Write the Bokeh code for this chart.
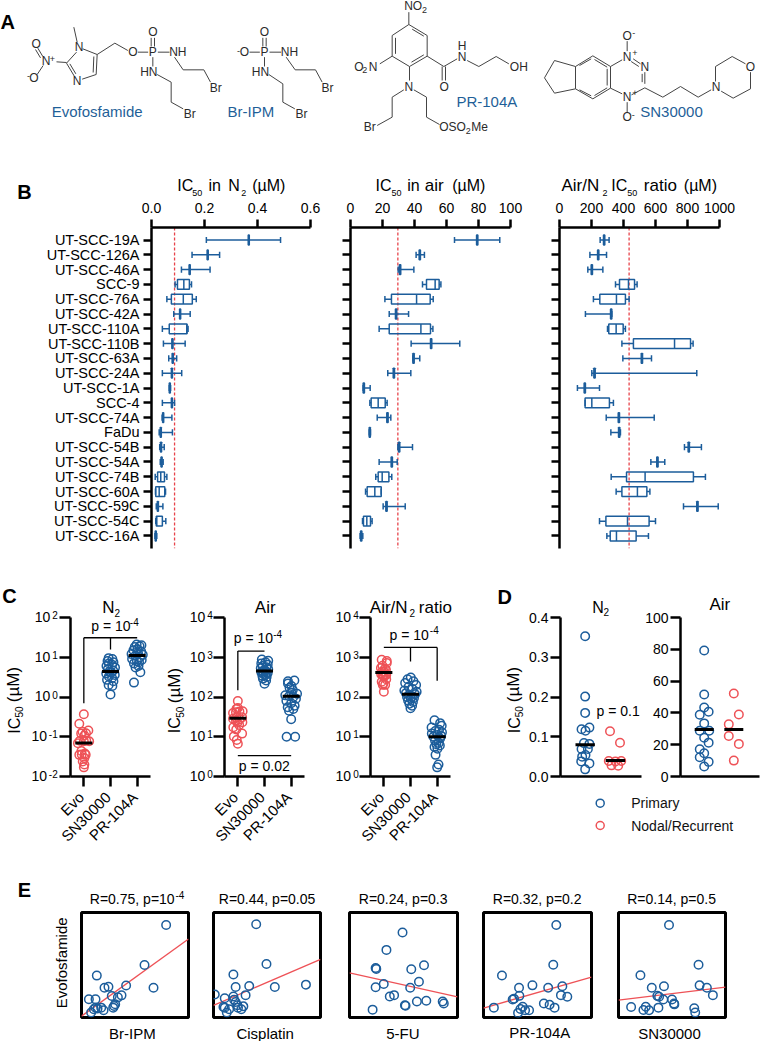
from math import pi
from bokeh.plotting import figure
from bokeh.layouts import column, row
from bokeh.models import FactorRange, Range1d, FixedTicker, Span, CustomJSTickFormatter
from bokeh.core.properties import value
from bokeh.embed import file_html
from bokeh.resources import INLINE

FONT = "Liberation Sans"
BLUE = "#1c5d9b"
RED = "#ee5257"
DBLUE = "#1f5f98"
INK = "#2a2a2a"

# ---------- panel B ----------
CELLS = ["UT-SCC-19A", "UT-SCC-126A", "UT-SCC-46A", "SCC-9", "UT-SCC-76A", "UT-SCC-42A", "UT-SCC-110A",
         "UT-SCC-110B", "UT-SCC-63A", "UT-SCC-24A", "UT-SCC-1A", "SCC-4", "UT-SCC-74A", "FaDu", "UT-SCC-54B",
         "UT-SCC-54A", "UT-SCC-74B", "UT-SCC-60A", "UT-SCC-59C", "UT-SCC-54C", "UT-SCC-16A"]
N2_MIN = [.207,.153,.113,.089,.058,.084,.041,.045,.065,.041,.067,.041,.040,.029,.031,.033,.014,.015,.018,.016,.013]
N2_Q1  = [.365,.210,.142,.098,.075,.106,.067,.077,.078,.075,.067,.075,.042,.033,.034,.036,.023,.016,.022,.018,.014]
N2_MED = [.367,.212,.144,.122,.120,.108,.133,.079,.080,.077,.069,.077,.044,.035,.036,.038,.035,.029,.024,.020,.016]
N2_Q3  = [.369,.214,.146,.143,.154,.110,.134,.081,.082,.079,.071,.079,.046,.037,.038,.040,.049,.050,.026,.041,.018]
N2_MAX = [.487,.257,.221,.151,.169,.146,.138,.127,.095,.114,.072,.087,.077,.079,.048,.044,.058,.053,.043,.054,.020]
AIR_MIN = [65,41,29.8,45,21.5,24.2,17.9,37.9,39,23.3,7.9,12.1,16.7,11.7,29.6,17.9,15.8,9.4,20.4,7.5,6]
AIR_Q1  = [78.8,42.9,30.6,47.5,25.6,28.1,24.2,50,39,26.7,7.9,12.9,22.7,11.7,30,25.4,17.3,10.4,22.1,8.1,6.3]
AIR_MED = [79.2,43.3,31,52.9,41.3,28.5,44,50.4,39.4,27.1,8.3,17.3,23.1,12,30.4,25.8,19.8,15.2,22.5,10.2,6.7]
AIR_Q3  = [79.6,43.7,31.4,55.4,49.8,28.9,50,50.8,39.8,27.5,8.7,21.7,23.5,12.4,30.8,26.2,24,19.2,22.9,12.5,7.1]
AIR_MAX = [93.3,46.2,39.6,56.5,51.7,36.3,51.5,68.3,43.3,37.7,12.3,22.9,25.2,12.5,38.75,29.2,25.8,19.2,34.2,13.5,7.7]
RAT_MIN = [254,190,177,350,212,162,300,390,396,202,112,160,292,321,781,571,323,354,775,250,296]
RAT_Q1  = [275,238,198,375,252,319,308,462,511,215,154,160,367,369,804,608,419,390,858,290,317]
RAT_MED = [279,242,202,431,356,323,354,719,515,219,158,202,371,373,808,612,535,487,862,425,356]
RAT_Q3  = [283,246,206,469,412,327,398,819,519,223,162,312,375,377,812,616,837,546,866,560,479]
RAT_MAX = [310,294,271,485,435,327,412,835,575,858,250,337,592,381,887,658,912,565,992,600,556]
N2_REF, AIR_REF, RAT_REF = 0.087, 29.6, 435

# ---------- panel C ----------
C_TICKS = ["Evo", "SN30000", "PR-104A"]
C1_EVO = [.367,.212,.144,.122,.120,.108,.133,.079,.080,.077,.069,.077,.044,.035,.036,.038,.035,.029,.024,.020,.017]
C1_EVO_X = [0,-.17,.17,.08,-.1,.02,-.05,-.15,.09,.2,-.22,0,-.09,.07,-.08,.04,-.17,.02,-.04,.02,0]
C1_SN = [1.15,1.9,2.0,2.5,2.7,3.0,3.3,3.6,3.9,4.2,4.4,4.6,5,5.5,6,6.5,7,7.5,8,9,9.5]
C1_SN_X = [0,.07,-.07,.11,-.13,.06,-.06,.16,-.16,.03,-.03,.1,-.1,.17,-.15,.06,-.06,.11,-.11,.07,-.07]
C1_PR = [2.3,4.2,5.5,6,7,7.5,8,8.5,9,10,11,11.5,12,13,14,15,16,18,19,20,21]
C1_PR_X = [-.12,.12,-.06,.05,-.12,.07,-.01,.17,-.19,.11,-.06,.21,-.21,.03,.15,-.14,.01,-.09,.09,.16,-.02]
C2_EVO = [79.2,43.3,31,52.9,41.3,28.5,44,50.4,39.4,27.1,8.3,17.3,23.1,12,30.4,25.8,19.8,15.2,22.5,10.2,6.7]
C2_EVO_X = [0,.06,.16,0,-.07,-.18,.18,-.05,-.18,.07,-.04,-.17,.17,.16,-.06,-.07,.05,-.06,-.02,-.15,0]
C2_SN = [216,260,290,320,340,360,380,400,420,440,450,470,500,530,560,600,650,700,750,820,880]
C2_SN_X = [0,.06,-.06,.08,-.08,.04,-.04,.12,-.12,.06,-.06,.01,.14,-.14,.07,-.07,.12,-.12,.04,.14,-.1]
C2_PR = [10,10,27.5,45,50,55,60,70,80,90,100,105,110,120,130,150,170,190,220,250,260]
C2_PR_X = [-.17,.15,0,-.08,.08,-.13,.13,0,-.18,.18,.08,-.08,-.22,.22,0,.06,-.06,.01,-.12,-.12,.12]
C3_EVO = [279,242,202,431,356,323,354,719,515,219,135,202,371,373,808,612,535,487,862,425,356]
C3_EVO_X = [.09,-.08,.05,-.07,.09,0,-.05,.11,.04,-.02,0,-.04,.07,-.1,.11,-.05,-.11,.08,-.08,.02,-.01]
C3_SN = [52,60,68,75,82,90,95,100,105,112,118,125,135,145,160,180,200,225,250,280,310]
C3_SN_X = [0,.06,-.04,.09,-.09,.01,.13,-.13,.06,-.06,.17,-.17,.23,-.23,.07,-.07,.21,-.2,.11,-.11,.01]
C3_PR = [1.7,2,3.5,5,5.5,6,6.5,7,8,9,10,10.5,11,12,13,14,15,17,19,22,26]
C3_PR_X = [0,.05,-.06,.01,-.1,.1,-.03,.06,-.08,.11,-.14,.15,.01,-.2,.18,-.07,.07,-.21,.17,.11,-.1]
C1_MEDIANS = [0.07, 4.4, 11]
C2_MEDIANS = [29, 450, 105]
C3_MEDIANS = [413, 118, 10]

# ---------- panel D ----------
D1_P = [.353,.201,.160,.119,.123,.115,.084,.082,.069,.069,.054,.050,.038,.033,.018]
D1_P_X = [0,0,0,-.12,.14,.01,-.04,.14,.09,-.12,.01,-.1,-.13,.14,0]
D1_N = [.114,.085,.039,.039,.038,.028,.027]
D1_N_X = [-.18,.15,-.22,.19,0,-.13,.09]
D2_P = [79.3,51.6,43.4,40.7,38.8,33.4,28.8,28.8,24.4,21.3,17.1,14.6,12.1,9.2,6.3]
D2_P_X = [0,0,0,.15,-.15,0,-.15,.17,0,.15,-.15,0,-.15,.15,0]
D2_N = [52.2,39,32.8,25.5,20.5,10]
D2_N_X = [0,.17,-.17,-.17,.17,0]
D1_MEDIANS = [.08, .04]
D2_MEDIANS = [29.5, 29.5]
LEGEND = ["Primary", "Nodal/Recurrent"]

# ---------- panel E ----------
E1_X = [79.1,58.9,67.3,41.7,14.3,21.5,25.2,28.3,37.4,34.0,31.5,29.6,6.9,13.1,15.0,18.4,20.6,11.5,9.0,13.1,30.5]
E1_Y = [88.1,50.0,28.3,30.5,39.9,28.3,29.2,20.4,21.1,19.2,12.6,9.4,17.3,17.3,8.5,9.4,6.9,7.9,4.7,9.4,11]
E2_X = [39.9,49.5,57.3,86.4,33.4,18.6,20.7,1.2,10.5,18.6,30.0,9.3,10.5,14.6,12.4,19.2,22.3,26,27.9,22.9,20.7]
E2_Y = [88.8,50.9,29.1,31.3,30.0,40.9,29.1,21.9,18.4,20.0,21.3,10.0,9.4,7.8,4.7,17,11.6,7.8,10.6,9.4,14.7]
E3_X = [49.1,34.2,24.2,24.8,57.2,69,64.3,56.2,31.7,24.2,37.3,41.3,21.4,62.4,71.1,51.3,51.9,86.3,87.3]
E3_Y = [80.9,64.4,47.2,46.3,45.9,49.7,34.1,28.4,31.9,28.8,20,21.3,7.5,15.3,15.9,11.6,11.2,15.3,13.4]
E4_X = [67.4,64.6,17.1,32.9,45.3,59.9,73,71.7,77.6,33.2,27,28.3,9.6,36.3,34.2,32,38.5,42.2,55.9,61.2,65.8]
E4_Y = [88.1,50.3,40,28.4,30.6,28.4,29.7,21.3,19.7,20.6,17.2,17.8,9.4,10.3,8.1,4.4,6.9,6.9,13.4,12.2,9.4]
E5_X = [47.2,74.8,20.5,31.1,42.5,75.8,82.6,88.2,36.3,37.9,41.9,50,51.9,52.2,11.8,25.5,23.3,28.6,37.3,70.8,71.7]
E5_Y = [88.1,50.3,40.3,28.4,29.7,30.6,28.4,21.3,20.6,19.7,17.2,17.2,13.4,12.5,10,10.3,7.2,6.9,9.4,8.8,4.7]
E_FITS = [(1.3,74.8),(11.6,55.3),(42.5,19.7),(9,38.4),(16.6,29)]
E_NAMES = ["Br-IPM", "Cisplatin", "5-FU", "PR-104A", "SN30000"]

# ---------- panel A: bonds (x0,y0,x1,y1) and atom labels, at three times the page scale ----------
A_BONDS_L = [
 (220,80,230,125),(247,145,290,162),(290,162,287,222),(280,168,278,216),(287,222,245,236),(222,228,198,188),
 (208,190,226,220),(228,155,198,188),(198,186,168,184),(127,168,112,143),(120,172,105,147),(128,195,110,222),
 (290,162,343,128),(343,128,382,150),(412,155,443,155),(452,138,452,112),(462,138,462,112),(472,155,507,155),
 (522,170,548,208),(548,208,610,208),(610,208,630,245),(457,170,457,198),(470,222,512,245),(512,245,512,305),(512,305,548,325),
 (747,155,778,155),(787,138,787,112),(797,138,797,112),(807,155,842,155),(857,170,884,208),(884,208,945,208),(945,208,965,245),
 (792,170,792,198),(805,222,847,250),(847,250,847,305),(847,305,883,325)]
A_BONDS_R = [
 (205,72,260,105),(205,72,155,105),(155,105,155,167),(155,167,207,198),(207,198,260,167),(260,167,260,105),
 (215,86,250,107),(165,112,165,160),(213,185,250,163),(205,72,205,35),(155,167,118,190),(207,198,207,240),
 (190,268,155,290),(155,290,155,350),(155,350,110,375),(220,268,258,290),(258,290,258,350),(258,350,297,372),
 (260,167,310,198),(305,198,305,240),(315,198,315,240),(310,198,350,175),(380,180,415,198),(415,198,467,168),(467,168,505,190),
 (612,232,642,180),(642,180,705,198),(705,198,705,265),(705,265,642,278),(642,278,612,232),
 (705,198,757,166),(757,166,810,198),(810,198,810,263),(810,263,757,295),(757,295,705,265),
 (717,195,752,175),(762,177,800,200),(800,205,800,255),(762,285,800,262),(717,268,752,286),
 (810,198,845,178),(878,175,900,190),(872,183,895,198),(913,215,913,250),(905,220,905,245),(913,262,873,283),(845,280,810,263),
 (860,152,860,122),(860,305,860,335),
 (913,262,967,290),(967,290,1020,258),(1020,258,1073,290),(1073,290,1112,268),(1125,243,1125,198),(1125,198,1175,168),
 (1175,168,1215,190),(1230,215,1230,265),(1230,265,1178,293),(1178,293,1142,272)]
A_ATOMS_L = [("O",107,130),("N",137,182),("+",156,174),("O",100,233),("-",84,226),("N",236,140),("N",230,240),
 ("O",397,155),("P",457,155),("O",457,95),("NH",532,155),("HN",445,215),("Br",646,262),("Br",568,340),
 ("O",732,155),("-",714,150),("P",792,155),("O",792,95),("NH",867,155),("HN",780,215),("Br",981,262),("Br",903,340)]
A_ATOMS_R = [("NO",218,15),("2",252,27),("O",55,198),("2",73,207),("N",98,198),("N",205,258),("Br",88,380),("OSO",336,380),("2",383,391),
 ("Me",417,380),("O",311,258),("H",365,135),("N",365,168),("OH",535,198),
 ("N",860,168),("+",883,158),("N",913,198),("N",860,290),("+",883,278),("O",860,105),("-",880,97),("O",860,350),("-",878,342),
 ("N",1127,260),("O",1230,198)]
A_NAMES_L = [("Evofosfamide",290,332),("Br-IPM",751,332)]
A_NAMES_R = [("PR-104A",439,302),("SN30000",993,332)]

W, H = 760, 1041
ov = figure(width=W, height=H, min_border=0, toolbar_location=None, output_backend="svg", outline_line_color=None,
            background_fill_alpha=0, border_fill_alpha=0, tools="", x_range=Range1d(0, W), y_range=Range1d(H, 0),
            margin=(-H, 0, 0, 0))
ov.axis.visible = False
ov.grid.visible = False

def fig(x0, y0, x1, y1, fl, ft, fr, fb, **kw):
    """figure occupying page box (x0,y0)-(x1,y1) whose frame is (fl,ft)-(fr,fb) on the page"""
    p = figure(width=x1-x0, height=y1-y0, min_border_left=fl-x0, min_border_right=x1-fr, min_border_top=ft-y0,
               min_border_bottom=y1-fb, toolbar_location=None, output_backend="svg", outline_line_color=None,
               background_fill_alpha=0, border_fill_alpha=0, tools="", **kw)
    p.grid.visible = False
    return p

def T(x, y, s, size=14, color="black", align="left", baseline="alphabetic", angle=0, bold=False):
    # y (or x when rotated) is given as the text's baseline; drawn centred on the cap height
    if baseline == "alphabetic":
        if angle:
            x -= .36*size
        else:
            y -= .36*size
        baseline = "middle"
    ov.text([x], [y], text=[s], text_font=value(FONT), text_font_size=f"{size}px", text_color=color,
            text_align=align, text_baseline=baseline, angle=angle, text_font_style="bold" if bold else "normal")

def style_axis(ax, lw=2.5, tick=8):
    ax.axis_line_width = lw
    ax.major_tick_line_width = lw
    ax.major_tick_out = tick
    ax.major_tick_in = 0
    ax.minor_tick_line_width = lw
    ax.minor_tick_line_color = "black"
    ax.minor_tick_out = tick
    ax.minor_tick_in = 0
    ax.major_label_text_font = FONT
    ax.major_label_text_font_size = "14px"
    ax.major_label_text_color = "black"

# ---------- A ----------
pa = fig(0, 0, 760, 172, 0, 0, 760, 172, x_range=Range1d(0, 760), y_range=Range1d(172, 0))
pa.axis.visible = False
bonds = [(b[0]/3, b[1]/3, b[2]/3, b[3]/3) for b in A_BONDS_L] + [(340+b[0]/3, b[1]/3, 340+b[2]/3, b[3]/3) for b in A_BONDS_R]
pa.segment([b[0] for b in bonds], [b[1] for b in bonds], [b[2] for b in bonds], [b[3] for b in bonds], line_color="#444444", line_width=1)
atoms = [(a[0], a[1]/3, a[2]/3) for a in A_ATOMS_L] + [(a[0], 340+a[1]/3, a[2]/3) for a in A_ATOMS_R]
small = {"2", "+", "-"}
for s, x, y in atoms:
    T(x, y, s, size=9 if s in small else 12, color=INK, align="center", baseline="middle")
names = [(a[0], a[1]/3, a[2]/3) for a in A_NAMES_L] + [(a[0], 340+a[1]/3, a[2]/3) for a in A_NAMES_R]
for s, x, y in names:
    T(x, y, s, size=15, color=DBLUE, align="center", baseline="middle")
T(0, 29, "A", size=20, bold=True)

# ---------- B ----------
ROW_POS = [20.5-i for i in range(21)]

def boxes(p, ys, mn, q1, med, q3, mx, ref):
    p.add_layout(Span(location=ref, dimension="height", line_color="#e8434a", line_width=1.3, line_dash="3 2", level="underlay"))
    p.segment(mn, ys, q1, ys, line_color=BLUE, line_width=1.5)
    p.segment(q3, ys, mx, ys, line_color=BLUE, line_width=1.5)
    p.hbar(y=ys, left=mn, right=mn, height=0.42, line_color=BLUE, line_width=1.5, fill_alpha=0)
    p.hbar(y=ys, left=mx, right=mx, height=0.42, line_color=BLUE, line_width=1.5, fill_alpha=0)
    p.hbar(y=ys, left=q1, right=q3, height=0.66, line_color=BLUE, line_width=1.5, fill_alpha=0)
    p.hbar(y=ys, left=med, right=med, height=0.66, line_color=BLUE, line_width=1.5, fill_alpha=0)

def bfig(x0, x1, fl, fr, xr, ticks, yr):
    p = fig(x0, 172, x1, 560, fl, 227, fr, 548, x_axis_location="above", x_range=Range1d(*xr), y_range=yr)
    p.xaxis.ticker = FixedTicker(ticks=ticks)
    style_axis(p.xaxis[0]); style_axis(p.yaxis[0])
    p.xaxis.major_label_standoff = 7
    return p

b1 = bfig(0, 330, 151, 310, (0, .6), [0, .2, .4, .6],
          FactorRange(factors=CELLS[::-1], range_padding=0.345, range_padding_units="absolute"))
b1.xaxis.formatter = CustomJSTickFormatter(code="return tick.toFixed(1)")
b1.yaxis.major_label_standoff = 4
b1.yaxis.major_label_text_font_size = "14.5px"
boxes(b1, CELLS, N2_MIN, N2_Q1, N2_MED, N2_Q3, N2_MAX, N2_REF)
b2 = bfig(330, 540, 350, 510, (0, 100), [0, 20, 40, 60, 80, 100], Range1d(-.345, 21.345))
b2.yaxis.ticker = FixedTicker(ticks=[], minor_ticks=ROW_POS)
boxes(b2, ROW_POS, AIR_MIN, AIR_Q1, AIR_MED, AIR_Q3, AIR_MAX, AIR_REF)
b3 = bfig(540, 760, 559, 719, (0, 1000), [0, 200, 400, 600, 800, 1000], Range1d(-.345, 21.345))
b3.yaxis.ticker = FixedTicker(ticks=[], minor_ticks=ROW_POS)
boxes(b3, ROW_POS, RAT_MIN, RAT_Q1, RAT_MED, RAT_Q3, RAT_MAX, RAT_REF)

T(16.7, 199, "B", size=20, bold=True)
for x, s, sz, y in [(176.7,"IC",16,191),(191.7,"50",9,195.5),(208,"in",16,191),(227.7,"N",16,191),(240.7,"2",9,195.5),(251.7,"(µM)",16,191),
                    (375,"IC",16,191),(391,"50",9,195.5),(406.7,"in",16,191),(424.3,"air",17,191),(451.7,"(µM)",16,191),
                    (561,"Air/N",17,191),(602,"2",9,195.5),(610.7,"IC",16,191),(626.7,"50",9,195.5),(643.3,"ratio",17,191),(683.3,"(µM)",16,191)]:
    T(x, y, s, size=sz)

# ---------- C ----------
def cfig(x0, x1, fl, yr, decades):
    p = fig(x0, 560, x1, 860, fl, 617, fl+80, 776, y_axis_type="log", x_range=Range1d(0, 3), y_range=Range1d(*yr))
    p.yaxis.ticker = FixedTicker(ticks=[], minor_ticks=decades)
    p.xaxis.ticker = FixedTicker(ticks=[], minor_ticks=[.5, 1.5, 2.5])
    style_axis(p.xaxis[0], tick=10); style_axis(p.yaxis[0], tick=11)
    for i, name in enumerate(C_TICKS):
        T(fl + 13.3 + 26.67*i - 2.5, 794, name, size=15, align="right", baseline="middle", angle=pi/4)
    return p

def swarm(p, xs, ys, color):
    p.scatter(xs, ys, size=8.5, marker="circle", line_color=color, line_width=1.5, fill_alpha=0)

def cdraw(p, ser, meds):
    for c, (ox, ys, col) in zip([.5, 1.5, 2.5], ser):
        swarm(p, [c+o for o in ox], ys, col)
    p.segment([.5-.32, 1.5-.32, 2.5-.32], meds, [.5+.32, 1.5+.32, 2.5+.32], meds, line_color="black", line_width=3)

def exp_labels(xten, xexp, vals):
    for ys, s, e in vals:
        T(xten, ys+4.5, s, size=14)
        T(xexp, ys+1.3, e, size=10)

def ylab(xb, y1, y2, y3):
    T(xb, y1, "IC", size=16, angle=pi/2)
    T(xb+3, y2, "50", size=10, angle=pi/2)
    T(xb, y3, "(µM)", size=17, angle=pi/2)

c1 = cfig(0, 163, 70, (1e-2, 1e2), [1e-2, 1e-1, 1, 10, 100])
cdraw(c1, [(C1_EVO_X, C1_EVO, RED), (C1_SN_X, C1_SN, BLUE), (C1_PR_X, C1_PR, BLUE)], C1_MEDIANS)
c1.line([.5, .5], [30.9, .698], line_color="black", line_width=1.3)
c1.line([.5, 2.5], [30.9, 30.9], line_color="black", line_width=1.3)
c1.line([1.5, 1.5], [30.9, 15.7], line_color="black", line_width=1.3)
exp_labels(34.3, 51.7, [(617,"10","2"),(656.75,"10","1"),(696.5,"10","0")])
T(31, 741, "10"); T(48.3, 737.5, "-1", size=10)
T(31, 780.5, "10"); T(48.3, 777.3, "-2", size=10)
ylab(19.5, 733.3, 717, 701.7)
T(101.7, 612.7, "N", size=17); T(114, 616, "2", size=10)
T(90.7, 631, "p = 10"); T(129.3, 625, "-4", size=10)
T(1.7, 603, "C", size=20, bold=True)

c2 = cfig(163, 320, 224, (1, 1e4), [1, 10, 100, 1000, 1e4])
cdraw(c2, [(C2_EVO_X, C2_EVO, RED), (C2_SN_X, C2_SN, BLUE), (C2_PR_X, C2_PR, BLUE)], C2_MEDIANS)
c2.line([.5, .5], [147, 1426], line_color="black", line_width=1.3)
c2.line([.5, 1.5], [1426, 1426], line_color="black", line_width=1.3)
c2.line([.5, 2.5], [3.37, 3.37], line_color="black", line_width=1.3)
exp_labels(189.3, 206.7, [(617,"10","4"),(656.75,"10","3"),(696.5,"10","2"),(736.25,"10","1"),(776,"10","0")])
ylab(180, 732.7, 717.3, 702.7)
T(254.3, 613.3, "Air", size=17)
T(233.3, 643, "p = 10"); T(272.7, 637.5, "-4", size=10)
T(238.3, 770.7, "p = 0.02")

c3 = cfig(320, 490, 370, (1, 1e4), [1, 10, 100, 1000, 1e4])
cdraw(c3, [(C3_EVO_X, C3_EVO, RED), (C3_SN_X, C3_SN, BLUE), (C3_PR_X, C3_PR, BLUE)], C3_MEDIANS)
c3.line([.5, 2.5], [1766, 1766], line_color="black", line_width=1.3)
c3.line([1.5, 1.5], [1766, 787], line_color="black", line_width=1.3)
c3.line([2.5, 2.5], [1766, 258], line_color="black", line_width=1.3)
exp_labels(335, 352.7, [(617,"10","4"),(656.75,"10","3"),(696.5,"10","2"),(736.25,"10","1"),(776,"10","0")])
T(369.3, 612.7, "Air/N", size=17); T(409, 616, "2", size=10); T(418.3, 612.7, "ratio", size=17)
T(389, 640, "p = 10"); T(429.3, 633, "-4", size=10)

# ---------- D ----------
def dfig(x0, x1, fl, fr, xr, yr, ticks):
    p = fig(x0, 560, x1, 790, fl, 617, fr, 776, x_range=Range1d(*xr), y_range=Range1d(*yr))
    p.yaxis.ticker = FixedTicker(ticks=ticks)
    p.xaxis.ticker = FixedTicker(ticks=[])
    style_axis(p.xaxis[0]); style_axis(p.yaxis[0], tick=10)
    p.yaxis.major_label_standoff = 2
    return p

def ddraw(p, px, py, nx, ny, meds):
    swarm(p, [1+o for o in px], py, BLUE)
    swarm(p, [2+o for o in nx], ny, RED)
    p.segment([1-.32, 2-.32], meds, [1+.32, 2+.32], meds, line_color="black", line_width=3)

d1 = dfig(490, 642, 560, 641, (.185, 2.86), (0, .4), [0, .1, .2, .3, .4])
d1.yaxis.formatter = CustomJSTickFormatter(code="return tick.toFixed(1)")
ddraw(d1, D1_P_X, D1_P, D1_N_X, D1_N, D1_MEDIANS)
ylab(519.3, 732.7, 716.7, 701.7)
T(591.7, 612.7, "N", size=16); T(603, 615.5, "2", size=10)
T(596, 715.7, "p = 0.1")
T(497, 604, "D", size=20, bold=True)
d2 = dfig(642, 760, 679, 759, (.2, 2.867), (0, 100), [0, 20, 40, 60, 80, 100])
ddraw(d2, D2_P_X, D2_P, D2_N_X, D2_N, D2_MEDIANS)
T(709, 610, "Air", size=17)

leg = fig(490, 790, 760, 860, 490, 790, 760, 860, x_range=Range1d(490, 760), y_range=Range1d(860, 790))
leg.axis.visible = False
for name, y, col in zip(LEGEND, [802.7, 825], [BLUE, RED]):
    leg.scatter([599.7], [y], size=8, marker="circle", line_color=col, line_width=1.5, fill_alpha=0)
    T(630.7, y, name, color="#111111", baseline="middle")

# ---------- E ----------
def efig(x0, x1, fl, fr, ft, fb, xs, ys, fit, title, tx, name, nx, ny):
    p = fig(x0, 860, x1, 1041, fl, ft, fr, fb, x_range=Range1d(0, 100), y_range=Range1d(0, 100))
    p.axis.visible = False
    p.outline_line_color = "black"
    p.outline_line_width = 3
    p.line([0, 100], list(fit), line_color=RED, line_width=1.3)
    swarm(p, xs, ys, BLUE)
    T(tx, 904, title)
    T(nx, ny, name, size=15, align="center")
    return p

e1 = efig(0, 200, 81, 188, 912, 1018, E1_X, E1_Y, E_FITS[0], "R=0.75, p=10", 89.3, E_NAMES[0], 131.8, 1038)
T(175, 898.3, "-4", size=10)
T(17.3, 896.7, "E", size=20, bold=True)
T(66.7, 962.3, "Evofosfamide", size=15, align="center", angle=pi/2)
e2 = efig(200, 335, 213, 320, 911, 1017, E2_X, E2_Y, E_FITS[1], "R=0.44, p=0.05", 218.3, E_NAMES[1], 264.7, 1038)
e3 = efig(335, 470, 349, 457, 910, 1017, E3_X, E3_Y, E_FITS[2], "R=0.24, p=0.3", 358.3, E_NAMES[2], 402.3, 1038)
e4 = efig(470, 604, 483, 591, 910, 1017, E4_X, E4_Y, E_FITS[3], "R=0.32, p=0.2", 492.3, E_NAMES[3], 539.3, 1037)
e5 = efig(604, 760, 618, 725, 910, 1017, E5_X, E5_Y, E_FITS[4], "R=0.14, p=0.5", 626.7, E_NAMES[4], 669, 1038)

main = column(pa, row(b1, b2, b3, spacing=0), row(c1, c2, c3, column(row(d1, d2, spacing=0), leg, spacing=0), spacing=0),
              row(e1, e2, e3, e4, e5, spacing=0), spacing=0)
root = column(main, ov, spacing=0)
open("out.html", "w").write(file_html(root, INLINE))
